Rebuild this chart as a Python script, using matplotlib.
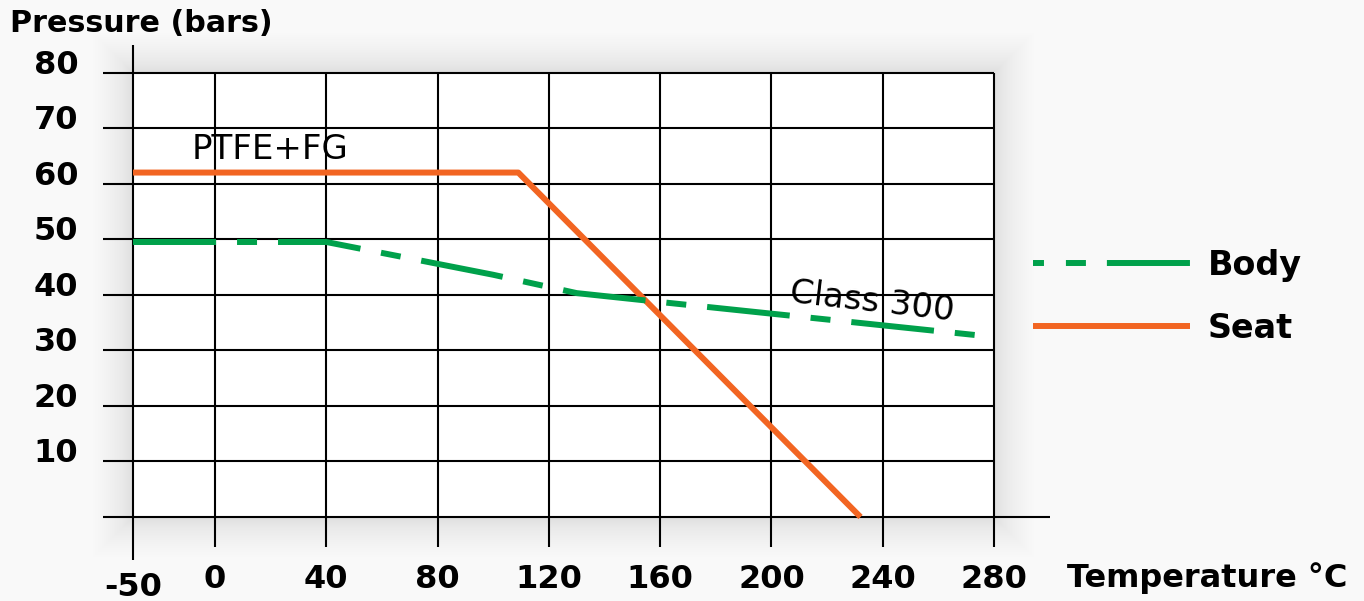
import numpy as np
import matplotlib
matplotlib.use("Agg")
import matplotlib.pyplot as plt
from matplotlib.patches import Rectangle
from matplotlib.lines import Line2D
from matplotlib.transforms import IdentityTransform

plt.rcParams['lines.scale_dashes'] = False
plt.rcParams['font.family'] = ['DejaVu Sans']

# ---- data ----
x_ticks = [-50, 0, 40, 80, 120, 160, 200, 240, 280]
y_ticks = [10, 20, 30, 40, 50, 60, 70, 80]
body_t = [-50, 40, 100, 130, 160, 200, 240, 280]
body_p = [49.5, 49.5, 43.6, 40.3, 38.7, 36.6, 34.5, 32.4]
seat_t = [-50, 109, 232]
seat_p = [62, 62, 0]

GREEN = '#00A14B'
ORANGE = '#F26522'
BG = '#F9F9F9'

fig = plt.figure(figsize=(13.64, 6.01), dpi=100, facecolor=BG)
ax = fig.add_axes([103 / 1364, 41 / 601, 947 / 1364, 515 / 601])
ax.set_facecolor('none')
ax.set_zorder(2)

NEG = 0.5894
def fwd(x):
    x = np.asarray(x, dtype=float)
    return np.where(x < 0, x * NEG, x)
def inv(m):
    m = np.asarray(m, dtype=float)
    return np.where(m < 0, m / NEG, m)

ax.set_xscale('function', functions=(fwd, inv))
XL, XR = -68.3, 300.1
YB, YT = -7.74, 84.96
ax.set_xlim(XL, XR)
ax.set_ylim(YB, YT)
ax.axis('off')

# plot area + soft shadow
fig.canvas.draw()
(px0, py0), (px1, py1) = ax.transData.transform([(-50, 0), (280, 80)])
N = 30
for k in range(1, N + 1):
    pad = 40 * (k / N) ** 1.8
    fig.patches.append(Rectangle((px0 - pad, py0 - pad), (px1 - px0) + 2 * pad,
                                 (py1 - py0) + 2 * pad,
                                 transform=IdentityTransform(), facecolor='black',
                                 alpha=0.005, lw=0, zorder=0))
ax.add_patch(Rectangle((-50, 0), 330, 80, facecolor='white', lw=0, zorder=0.5))

# grid lines
glw = 1.5
ax.hlines(y_ticks, XL, 280, color='black', lw=glw, zorder=1)
ax.hlines(0, XL, XR, color='black', lw=glw, zorder=1)
ax.vlines(x_ticks[1:], -5.4, 80, color='black', lw=glw, zorder=1)
ax.vlines(x_ticks[0], YB, YT, color='black', lw=glw, zorder=1)

# data lines
dash = (0, (59.8, 15.1, 14.4, 15.1))
ax.plot(seat_t, seat_p, color=ORANGE, lw=4.3, solid_capstyle='butt', zorder=3)
ax.plot(body_t, body_p, color=GREEN, lw=4.3, linestyle=dash, dash_capstyle='butt', zorder=4)

# tick labels
tfs = 23
for v in y_ticks:
    ax.text(-0.026, v + 1.35, str(v), transform=ax.get_yaxis_transform(),
            ha='right', va='center', fontsize=tfs, fontweight='bold')
for t in x_ticks:
    yy = -0.054 if t < 0 else -0.037
    ax.text(t, yy, str(t), transform=ax.get_xaxis_transform(),
            ha='center', va='center', fontsize=tfs, fontweight='bold')

fig.text(10 / 1364, 1 - 23 / 601, 'Pressure (bars)', ha='left', va='center',
         fontsize=21.7, fontweight='bold')
fig.text(1067 / 1364, 1 - 578 / 601, 'Temperature °C', ha='left', va='center',
         fontsize=23, fontweight='bold')

ax.text(19.6, 66.1, 'PTFE+FG', ha='center', va='center', fontsize=24.5)
ax.text(236, 38.7, 'Class 300', ha='center', va='center', fontsize=24.5,
        rotation=-6.5, rotation_mode='anchor')

# legend
handles = [Line2D([], [], color=GREEN, lw=4.3,
                  linestyle=(0, (7.9, 15.8, 14.4, 15.1, 59.8, 15.1)),
                  dash_capstyle='butt'),
           Line2D([], [], color=ORANGE, lw=4.3, solid_capstyle='butt')]
lfs = 24
fpx = lfs * 100 / 72
leg = fig.legend(handles, ['Body', 'Seat'], loc='upper left',
                 bbox_to_anchor=(1033 / 1364, 1 - 249 / 601), frameon=False,
                 prop={'weight': 'bold', 'size': lfs},
                 handlelength=157 / fpx, handletextpad=18 / fpx,
                 borderpad=0, borderaxespad=0, labelspacing=0.9)

fig.savefig('out.png', dpi=100, facecolor=BG)
